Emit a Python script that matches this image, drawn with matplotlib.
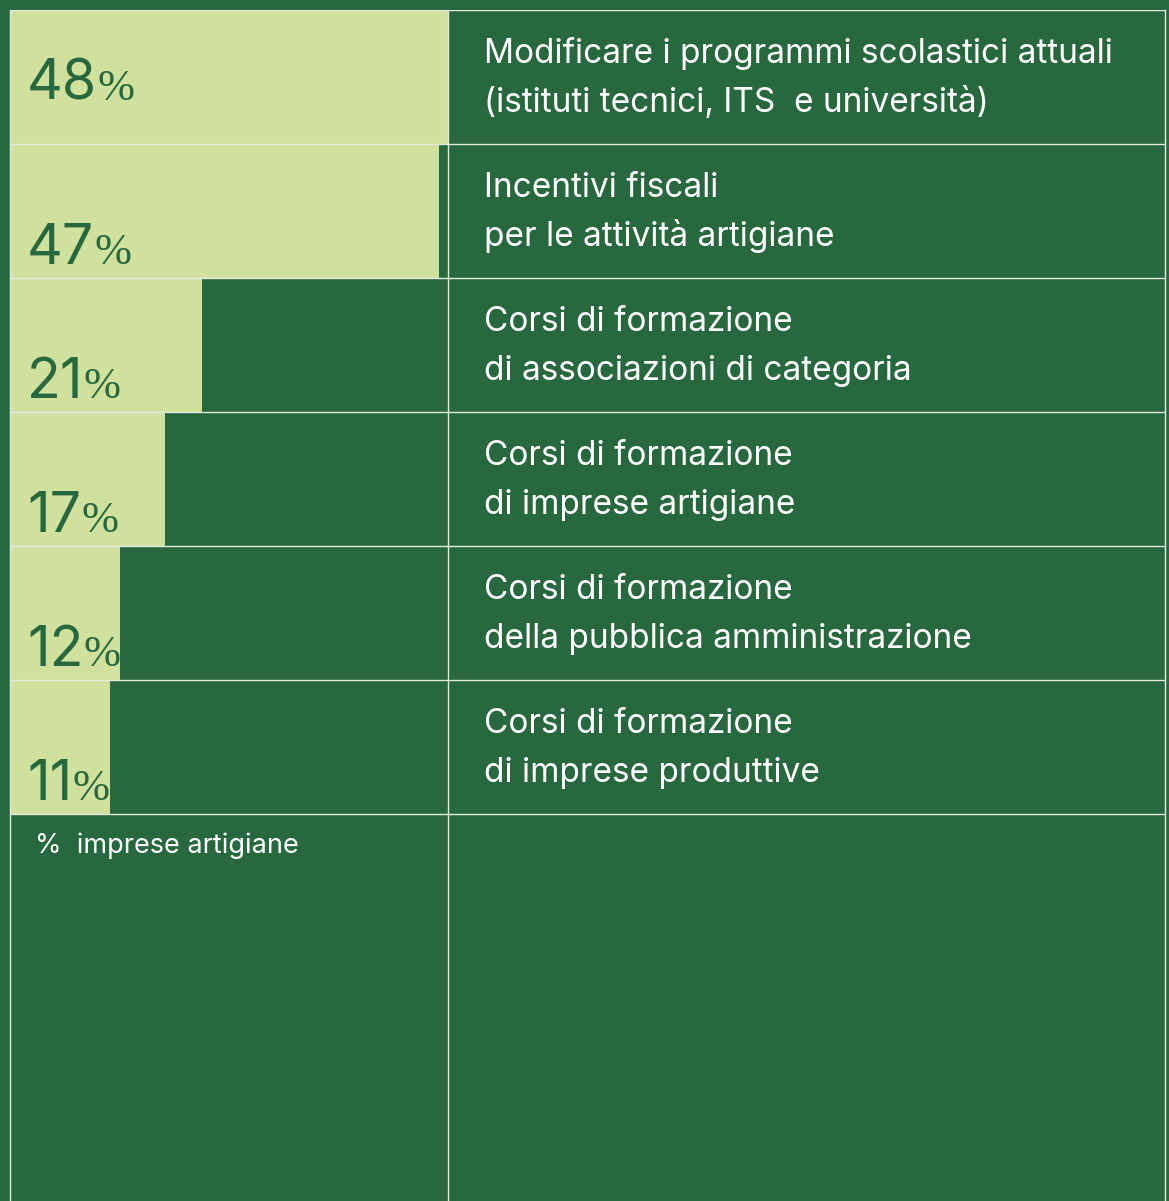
import matplotlib
matplotlib.use('Agg')
import matplotlib.pyplot as plt
import numpy as np

# Data
values = [48, 47, 21, 17, 12, 11]
labels = [
    "Modificare i programmi scolastici attuali\n(istituti tecnici, ITS  e università)",
    "Incentivi fiscali\nper le attività artigiane",
    "Corsi di formazione\ndi associazioni di categoria",
    "Corsi di formazione\ndi imprese artigiane",
    "Corsi di formazione\ndella pubblica amministrazione",
    "Corsi di formazione\ndi imprese produttive",
]
footnote = "%  imprese artigiane"

BG = '#28683e'
BAR = '#d0e09d'
LINE = '#e4ece2'

W, H = 1169, 1201
fig = plt.figure(figsize=(W / 100, H / 100), dpi=100, facecolor=BG)

# axes spans x 10..1165 px, y from 10 px below the top down to the bottom
row_px = 134
ax_w, ax_h = 1155, 1191
ax = fig.add_axes([10 / W, 0, ax_w / W, ax_h / H])
ax.set_facecolor(BG)

px_per_pct = 438 / 48                  # left panel is 438 px wide for 48 %
x_max = ax_w / px_per_pct
n = len(values)
ax.set_xlim(0, x_max)
ax.set_ylim(ax_h / row_px, 0)

ypos = np.arange(n) + 0.5
ax.barh(ypos, values, height=1.0, left=0, color=BAR, zorder=1)

# grid lines
for y in range(n + 1):
    ax.axhline(y, color=LINE, lw=1.0, zorder=3)
for x in [0, 48, x_max]:
    ax.axvline(x, color=LINE, lw=1.0, zorder=3, clip_on=False)

tr = ax.get_yaxis_transform()
num_x = 17 / ax_w
lab_x = (484 - 10) / ax_w

for i, (v, lab) in enumerate(zip(values, labels)):
    # first row number sits in the middle, the others near the bottom
    base = i + 90 / row_px if i == 0 else i + 1 - 14 / row_px
    num = ax.text(num_x, base, str(v), transform=tr, ha='left', va='baseline',
                  fontsize=40, fontfamily='Inter', color=BG, zorder=4)
    ax.annotate('%', xy=(1, base), xycoords=(num, ax.transData),
                xytext=(0.3, 0), textcoords='offset points',
                ha='left', va='baseline', fontsize=32,
                fontfamily='Liberation Serif', color=BG, zorder=4)
    l1, l2 = lab.split('\n')
    ax.text(lab_x, i + 53 / row_px, l1, transform=tr, ha='left', va='baseline',
            fontsize=24, fontfamily='Inter', color='white', zorder=4)
    ax.text(lab_x, i + 102 / row_px, l2, transform=tr, ha='left', va='baseline',
            fontsize=24, fontfamily='Inter', color='white', zorder=4)

ax.text((35 - 10) / ax_w, n + (853 - 10 - n * row_px) / row_px, footnote,
        transform=tr, ha='left', va='baseline', fontsize=19.5, fontfamily='Inter',
        color='white', zorder=4)

for s in ax.spines.values():
    s.set_visible(False)
ax.set_xticks([])
ax.set_yticks([])

fig.savefig('out.png', dpi=100, facecolor=BG)
